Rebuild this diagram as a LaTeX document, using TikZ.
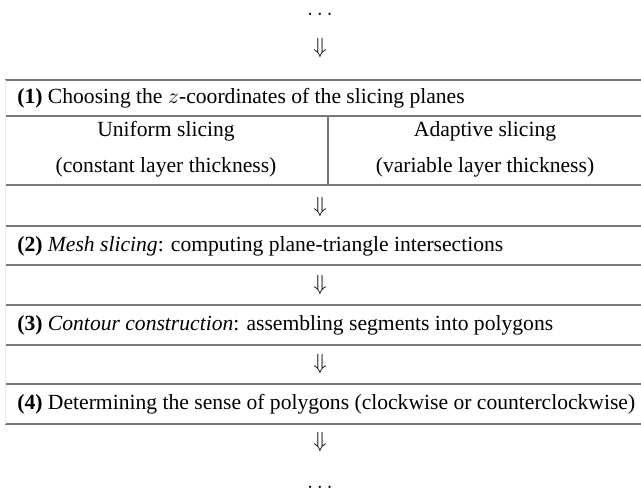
\documentclass[tikz,border=0pt]{standalone}
\usepackage{fontspec}
\setmainfont{Liberation Serif}
\usetikzlibrary{positioning}
\definecolor{rulegray}{RGB}{120,120,120}

\begin{document}
\begin{tikzpicture}[
        x=0.5pt, y=-0.5pt,
        rule/.style={rulegray, line width=0.6pt},
        faint/.style={black!8, line width=0.4pt},
        lab/.style={font=\fontsize{10.8}{13}\selectfont, inner sep=0pt},
        row/.style={lab, anchor=west},
        cell/.style={lab, anchor=center},
        dotsrow/.style={lab, anchor=base}
      ]
        \useasboundingbox (0,0) rectangle (641,498);
        \foreach \y in {80,116,185,226,265,305,345,384,424} {
          \draw[rule] (5,\y) -- (641,\y);
        }
        \draw[faint] (5,80) -- (5,424);
        \draw[rule] (328,116) -- (328,185);

        \node[dotsrow] (dotsin) at (320,16) {$\ldots$};
        \node[lab] (ar0) at (320,48) {$\Downarrow$};
        \node[row] (step1) at (17,98) {\textbf{(1)} Choosing the $z$-coordinates of the slicing planes};
        \node[cell] (unif) at (166,131) {Uniform slicing};
        \node[cell] (unifsub) at (166,167) {(constant layer thickness)};
        \node[cell] (adap) at (485,131) {Adaptive slicing};
        \node[cell] (adapsub) at (485,167) {(variable layer thickness)};
        \node[lab] (ar1) at (320,207) {$\Downarrow$};
        \node[row] (step2) at (17,246) {\textbf{(2)} \textit{Mesh slicing}: computing plane-triangle intersections};
        \node[lab] (ar2) at (320,285) {$\Downarrow$};
        \node[row] (step3) at (17,325) {\textbf{(3)} \textit{Contour construction}: assembling segments into polygons};
        \node[lab] (ar3) at (320,364) {$\Downarrow$};
        \node[row] (step4) at (17,404) {\textbf{(4)} Determining the sense of polygons (clockwise or counterclockwise)};
        \node[lab] (ar4) at (320,442) {$\Downarrow$};
        \node[dotsrow] (dotsout) at (320,488) {$\ldots$};
      \end{tikzpicture}
\end{document}
